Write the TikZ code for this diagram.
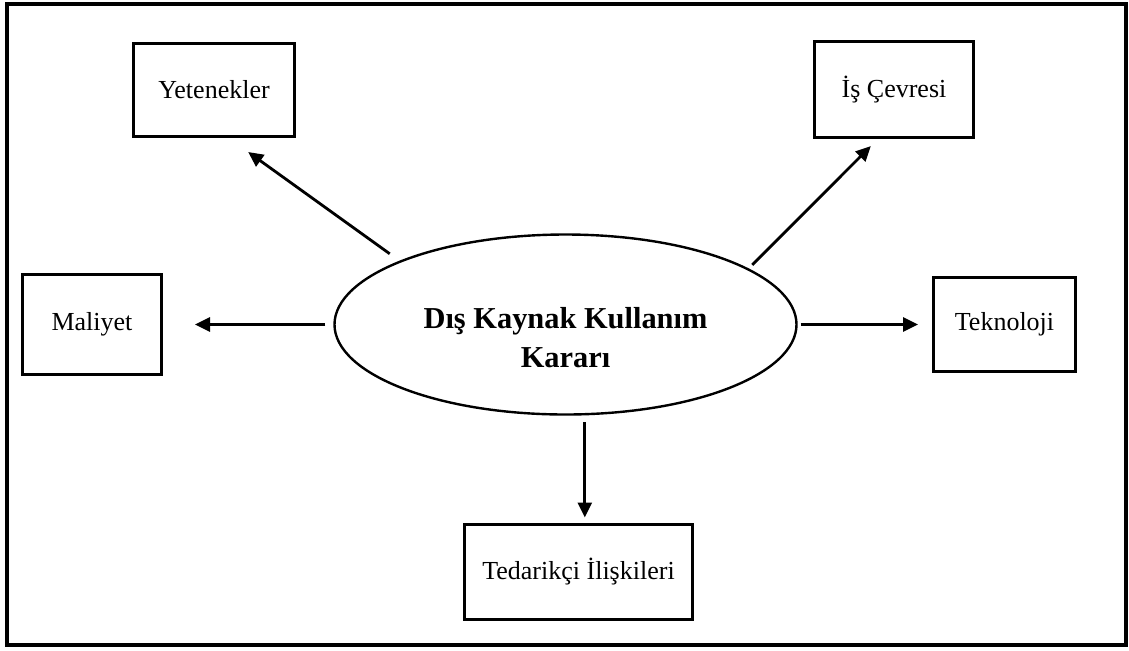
\documentclass[tikz,border=0pt]{standalone}
\usepackage{fontspec}
\setmainfont{Liberation Serif}
\usetikzlibrary{shapes.geometric,arrows.meta}

\begin{document}
\begin{tikzpicture}[x=0.5pt, y=-0.5pt,
    box/.style={draw, line width=1.5pt, inner sep=0pt, font=\fontsize{13}{15.5}\selectfont},
    arr/.style={-{Triangle[length=7.5pt,width=7pt]}, line width=1.4pt}]
  \useasboundingbox (0,0) rectangle (1129,650);
  \draw[line width=2pt] (7,4) rectangle (1126,645);

  \node[ellipse, draw, line width=1.2pt, minimum width=231pt, minimum height=90pt,
        label={[font=\fontsize{15.2}{19.5}\selectfont\bfseries, align=center, yshift=-6.5pt]center:Dış Kaynak Kullanım\\Kararı}]
        (karar) at (565.5,324.5) {};

  \node[box, minimum width=80.5pt, minimum height=46.5pt] (yet) at (214,90) {Yetenekler};
  \node[box, minimum width=79.5pt, minimum height=48pt] (isc) at (894,89.5) {İş Çevresi};
  \node[box, minimum width=69.5pt, minimum height=50pt] (mal) at (92,324.5) {Maliyet};
  \node[box, minimum width=71pt, minimum height=47pt] (tek) at (1004.5,324.5) {Teknoloji};
  \node[box, minimum width=114pt, minimum height=47.5pt] (ted) at (578.5,572) {Tedarikçi İlişkileri};

  \draw[arr, shorten <=6pt, shorten >=12pt] (karar.159) -- (yet.-73);
  \draw[arr, shorten <=2.5pt, shorten >=5pt] (karar.17) -- (isc.-108);
  \draw[arr, shorten <=4pt, shorten >=16pt] (karar.west) -- (karar.west -| mal.east);
  \draw[arr, shorten <=1.5pt, shorten >=7pt] (karar.east) -- (karar.east -| tek.west);
  \draw[arr, shorten <=3.5pt, shorten >=2.75pt] (karar.-78) -- (karar.-78 |- ted.north);
\end{tikzpicture}
\end{document}
